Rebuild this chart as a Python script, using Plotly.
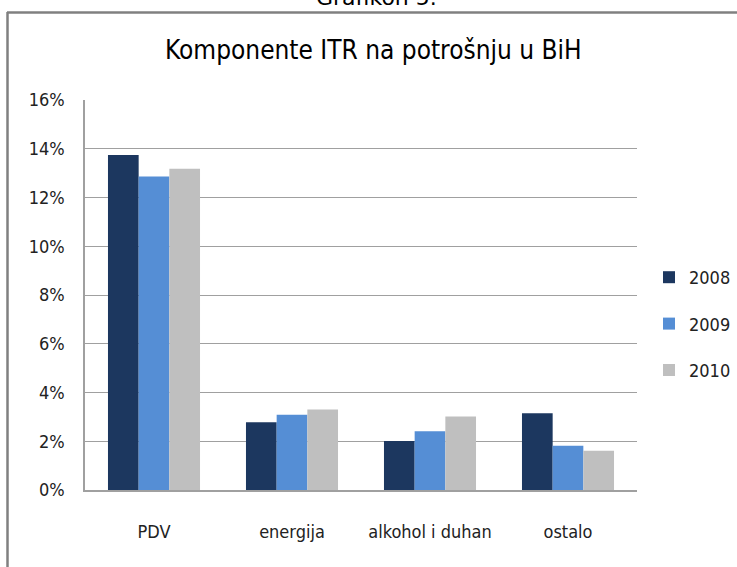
import plotly.graph_objects as go

categories = ["PDV", "energija", "alkohol i duhan", "ostalo"]
years = ["2008", "2009", "2010"]
values_2008 = [0.1374, 0.0278, 0.0201, 0.0315]
values_2009 = [0.1286, 0.0309, 0.0241, 0.0182]
values_2010 = [0.1318, 0.0330, 0.0302, 0.0161]
colors = ["#1C375F", "#558ED5", "#BFBFBF"]
y_ticks = [0, 0.02, 0.04, 0.06, 0.08, 0.10, 0.12, 0.14, 0.16]

W, H = 737, 567
ML, MR, MT, MB = 85, 100, 100, 77
PW, PH = W - ML - MR, H - MT - MB

def px_x(p):
    return (p - ML) / PW

def px_y(p):
    return (H - MB - p) / PH

fig = go.Figure()
for yr, vals, col in zip(years, [values_2008, values_2009, values_2010], colors):
    fig.add_trace(go.Bar(
        x=categories, y=vals, name=yr, marker=dict(color=col, line=dict(width=0)),
        legendgroup=yr,
    ))

cond = "DejaVu Sans Condensed, DejaVu Sans, sans-serif"
tick_font = dict(family=cond, size=18, color="#222222")

fig.update_layout(
    width=W, height=H,
    margin=dict(l=ML, r=MR, t=MT, b=MB, autoexpand=False),
    paper_bgcolor="white", plot_bgcolor="white",
    barmode="group", bargap=0.333, bargroupgap=0,
    showlegend=True,
    legend=dict(
        x=px_x(649), y=px_y(259), xanchor="left", yanchor="top",
        font=dict(family=cond, size=18, color="#222222"),
        tracegroupgap=20, itemwidth=30, bgcolor="rgba(0,0,0,0)",
    ),
    xaxis=dict(
        showline=True, linecolor="#A0A0A0", linewidth=1.5,
        showgrid=False, ticks="", tickfont=tick_font, ticklabelstandoff=25,
    ),
    yaxis=dict(
        range=[0, 0.16], tickvals=y_ticks, tickformat=".0%",
        showline=True, linecolor="#A0A0A0", linewidth=1.5,
        showgrid=True, gridcolor="#A0A0A0", gridwidth=1,
        ticks="", tickfont=tick_font, ticklabelstandoff=15,
        zeroline=False,
    ),
    annotations=[
        dict(text="Komponente ITR na potrošnju u BiH", xref="paper", yref="paper",
             x=px_x(373), y=px_y(50), xanchor="center", yanchor="middle", showarrow=False,
             font=dict(family=cond, size=26, color="#000000")),
        dict(text="Grafikon 5.", xref="paper", yref="paper",
             x=px_x(376), y=px_y(12), xanchor="center", yanchor="bottom", showarrow=False,
             font=dict(family="DejaVu Sans, sans-serif", size=22, color="#000000")),
    ],
    shapes=[
        dict(type="line", xref="paper", yref="paper", x0=px_x(7), x1=px_x(737), y0=px_y(12.5), y1=px_y(12.5),
             line=dict(color="#808080", width=2.5)),
        dict(type="line", xref="paper", yref="paper", x0=px_x(7.5), x1=px_x(7.5), y0=px_y(12), y1=px_y(567),
             line=dict(color="#808080", width=2.5)),
    ],
)

fig.write_html(
    "out.html",
    config={"displayModeBar": False},
    post_script="document.body.style.margin='0';document.body.style.overflow='hidden';",
)
